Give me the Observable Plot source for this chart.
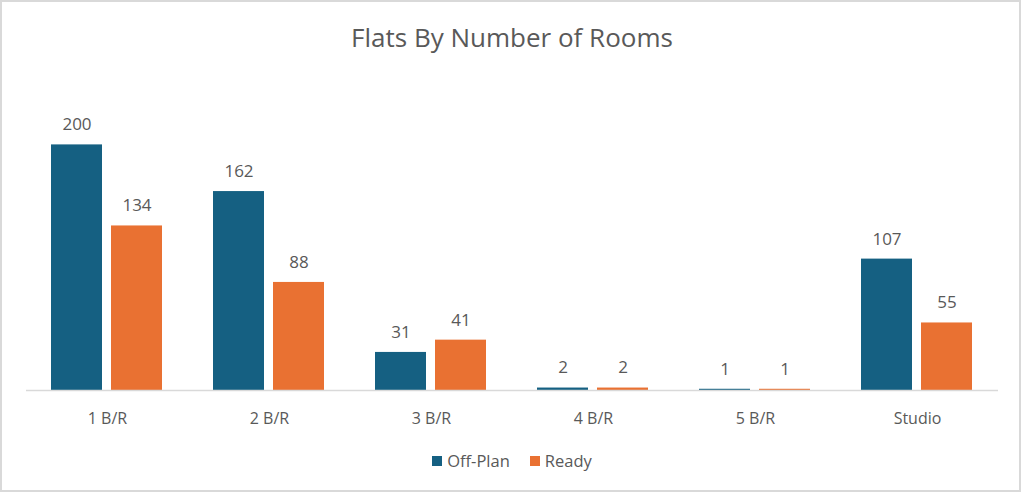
<!DOCTYPE html>
<html>
<head>
<meta charset="utf-8">
<script src="https://cdn.jsdelivr.net/npm/d3@7"></script>
<script src="https://cdn.jsdelivr.net/npm/@observablehq/plot@0.6"></script>
<style>
  html, body { margin: 0; padding: 0; background: #fff; }
  body { width: 1024px; height: 494px; position: relative; overflow: hidden; font-family: "Open Sans", sans-serif; color: #595959; }
  #frame { position: absolute; left: 0; top: 0; width: 1021px; height: 492px; border: 2px solid #d9d9d9; box-sizing: border-box; }
  #title { position: absolute; left: 0; top: 20px; width: 1024px; text-align: center; font-size: 26px; line-height: 34px; color: #595959; }
  #chart { position: absolute; left: 0; top: 60px; }
  #legend { position: absolute; left: 0; top: 451px; width: 1024px; display: flex; justify-content: center; align-items: center; font-size: 16.5px; line-height: 20px; }
  .item { display: flex; align-items: center; margin: 0 10px; }
  .sw { width: 10px; height: 10px; margin-right: 5px; }
</style>
</head>
<body>
<div id="frame"></div>
<div id="title">Flats By Number of Rooms</div>
<div id="chart"></div>
<div id="legend"></div>
<script>
const categories = ["1 B/R", "2 B/R", "3 B/R", "4 B/R", "5 B/R", "Studio"];
const seriesNames = ["Off-Plan", "Ready"];
const offPlan = [200, 162, 31, 2, 1, 107];
const ready = [134, 88, 41, 2, 1, 55];
const colors = ["#156082", "#E97132"];

const data = categories.flatMap((c, i) => [
  {category: c, series: seriesNames[0], value: offPlan[i]},
  {category: c, series: seriesNames[1], value: ready[i]}
]);

const chart = Plot.plot({
  width: 1024,
  height: 380,
  marginTop: 23,
  marginBottom: 50,
  marginLeft: 25,
  marginRight: 25,
  style: {fontFamily: "Open Sans, sans-serif", fontSize: "16px", color: "#595959", background: "transparent"},
  fx: {domain: categories, padding: 0, label: null, tickSize: 0, tickPadding: 22, axis: "bottom"},
  x: {domain: seriesNames, axis: null, paddingInner: 0.1475, paddingOuter: 0.404},
  y: {domain: [0, 250], axis: null},
  color: {domain: seriesNames, range: colors},
  marks: [
    Plot.barY(data, {fx: "category", x: "series", y: "value", fill: "series"}),
    Plot.ruleY([0], {stroke: "#d9d9d9", strokeWidth: 1.5}),
    Plot.text(data, {fx: "category", x: "series", y: "value", text: d => String(d.value), dy: -20, fill: "#595959", fontSize: 17})
  ]
});
document.getElementById("chart").appendChild(chart);

const legend = document.getElementById("legend");
seriesNames.forEach((s, i) => {
  const item = document.createElement("div");
  item.className = "item";
  const sw = document.createElement("div");
  sw.className = "sw";
  sw.style.background = colors[i];
  const label = document.createElement("span");
  label.textContent = s;
  item.appendChild(sw);
  item.appendChild(label);
  legend.appendChild(item);
});
</script>
</body>
</html>
